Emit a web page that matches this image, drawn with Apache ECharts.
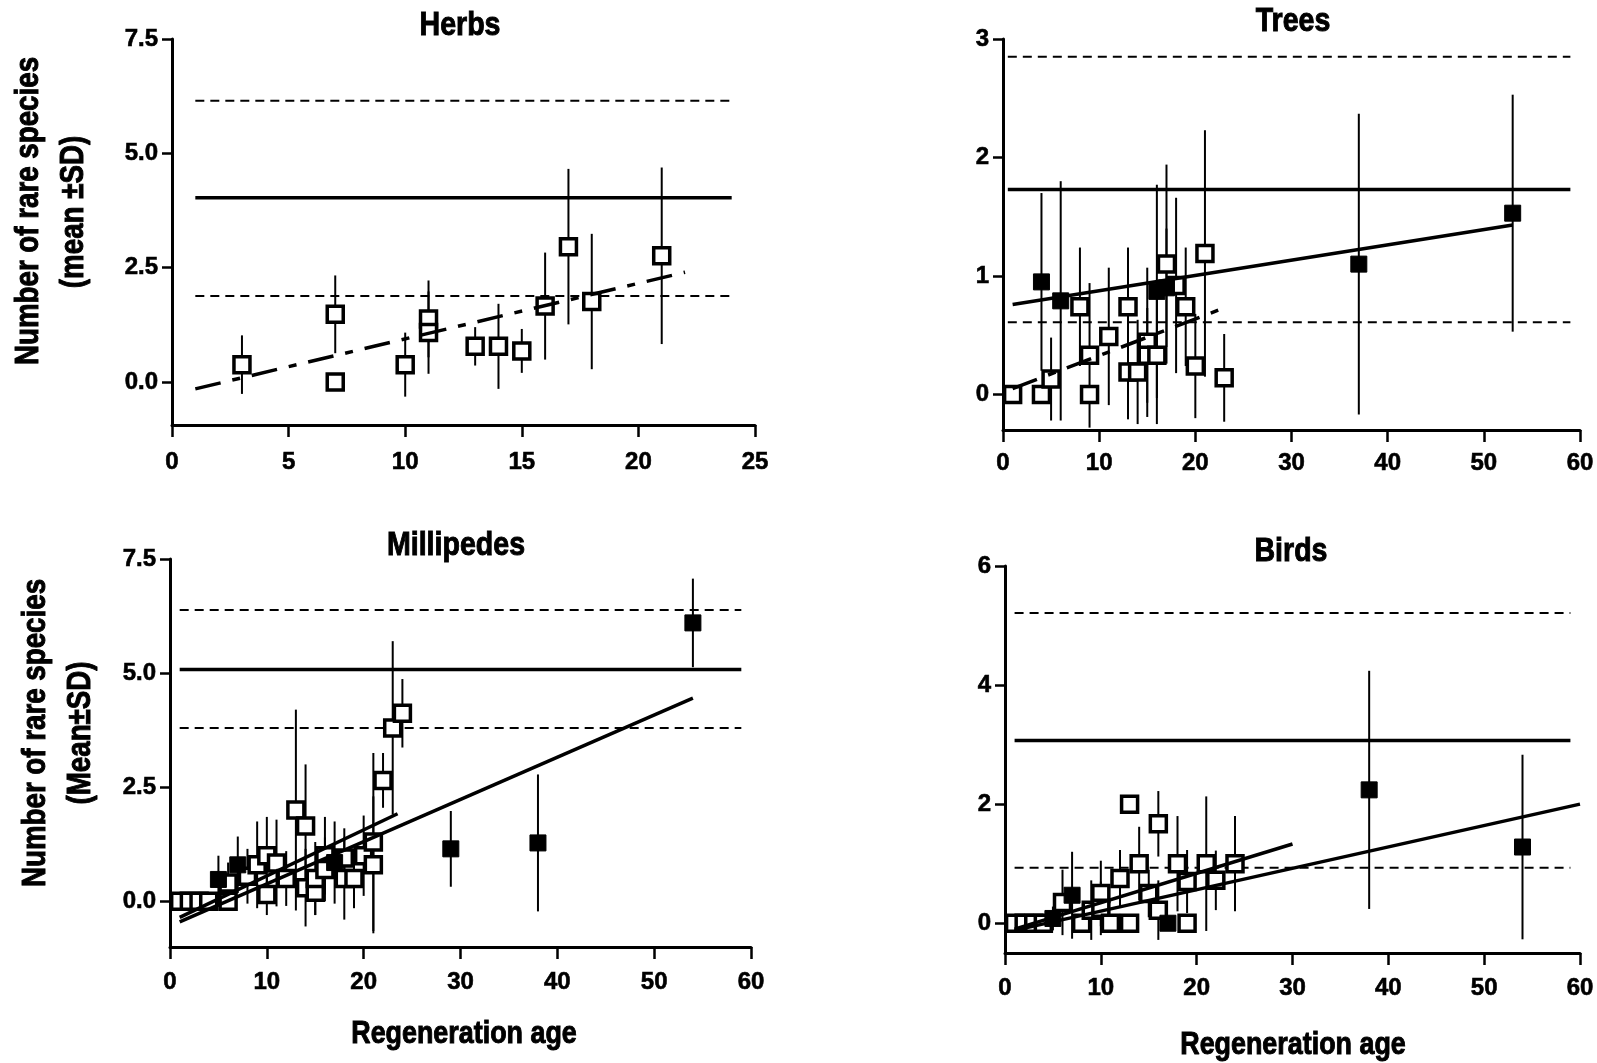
<!DOCTYPE html>
<html>
<head>
<meta charset="utf-8">
<script src="https://cdn.jsdelivr.net/npm/echarts@6/dist/echarts.min.js"></script>
<style>
  html, body { margin: 0; padding: 0; background: #fff; }
  #chart { width: 1597px; height: 1063px; }
</style>
</head>
<body>
<div id="chart"></div>
<script>
  // Herbs (only young regrowth sites, all open squares)
  const herbsAge  = [3, 7, 7, 10, 11, 11, 13, 14, 15, 16, 17, 18, 21];
  const herbsMean = [0.38, 1.48, 0, 0.38, 1.38, 1.08, 0.78, 0.78, 0.68, 1.66, 2.96, 1.76, 2.76];
  const herbsSD   = [0.64, 0.85, 0, 0.7, 0.84, 0.9, 0.42, 0.93, 0.48, 1.17, 1.7, 1.48, 1.93];
  const herbsRef  = [1.88, 4.03, 6.15];   // mean-SD, mean, mean+SD of old forest
  const herbsRefSpan = [1, 24];
  const herbsFit  = [[1, -0.15], [22, 2.4]];

  // Trees
  const treesOpenAge  = [1, 4, 5, 8, 9, 9, 11, 13, 13, 14, 15, 15, 16, 17, 18, 19, 20, 21, 23];
  const treesOpenMean = [0, 0, 0.13, 0.74, 0.33, 0, 0.49, 0.74, 0.19, 0.19, 0.44, 0.33, 0.33, 1.1, 0.92, 0.74, 0.24, 1.19, 0.14];
  const treesOpenSD   = [0, 0, 0.35, 0.5, 0.61, 0, 0.58, 0.5, 0.4, 0.44, 0.63, 0.4, 0.58, 0.84, 0.74, 0.5, 0.44, 1.04, 0.37];
  const treesFilledAge  = [4, 6, 16, 17, 37, 53];
  const treesFilledMean = [0.95, 0.79, 0.87, 0.9, 1.1, 1.53];
  const treesFilledSD   = [0.75, 1.01, 0.9, 0.5, 1.27, 1.0];
  const treesRef  = [0.61, 1.73, 2.85];
  const treesRefSpan = [0.5, 59];
  const treesFit  = [[1, 0.76], [53, 1.43]];
  const treesFitYoung = [[1, 0.05], [23, 0.73]];

  // Millipedes
  const milliOpenAge  = [1, 2, 3, 4, 6, 6, 8, 9, 10, 10, 11, 12, 13, 14, 14, 15, 15, 16, 16, 18, 18, 19, 20, 21, 21, 22, 23, 24];
  const milliOpenMean = [0, 0, 0, 0, 0, 0.4, 0.55, 0.8, 1.0, 0.15, 0.84, 0.5, 2.0, 1.65, 0.3, 0.2, 0.5, 1.0, 0.7, 0.95, 0.5, 0.5, 1.0, 1.3, 0.8, 2.65, 3.8, 4.12];
  const milliOpenSD   = [0, 0, 0, 0, 0, 0.45, 0.6, 0.95, 0.85, 0.45, 0.95, 0.6, 2.2, 1.35, 0.85, 0.5, 0.8, 0.85, 0.7, 0.65, 0.9, 0.65, 0.88, 1.95, 1.5, 0.6, 1.9, 0.75];
  const milliFilledAge  = [5, 7, 17, 29, 38, 54];
  const milliFilledMean = [0.48, 0.8, 0.85, 1.15, 1.28, 6.1];
  const milliFilledSD   = [0.52, 0.62, 0.9, 0.83, 1.5, 0.97];
  const milliRef  = [3.8, 5.08, 6.38];
  const milliRefSpan = [1, 59];
  const milliFit  = [[1, -0.45], [54, 4.45]];
  const milliFitYoung = [[1, -0.35], [23.5, 1.92]];

  // Birds
  const birdsOpenAge  = [1, 2, 3, 4, 6, 8, 9, 10, 10, 11, 12, 13, 13, 14, 15, 16, 16, 18, 19, 19, 21, 22, 24];
  const birdsOpenMean = [0, 0, 0, 0, 0.35, 0, 0.22, 0.5, 0.25, 0, 0.75, 2.0, 0, 1.0, 0.5, 1.67, 0.22, 1.0, 0, 0.7, 1.0, 0.72, 1.0];
  const birdsOpenSD   = [0, 0, 0, 0, 0.55, 0, 0.5, 0.55, 0.45, 0, 0.48, 0, 0, 0.62, 0.4, 0.55, 0.5, 0.8, 0, 0.53, 1.13, 0.5, 0.8];
  const birdsFilledAge  = [5, 7, 17, 38, 54];
  const birdsFilledMean = [0.08, 0.47, 0, 2.24, 1.28];
  const birdsFilledSD   = [0.2, 0.73, 0, 2.0, 1.55];
  const birdsRef  = [0.93, 3.07, 5.21];
  const birdsRefSpan = [1, 59];
  const birdsFit  = [[1, -0.12], [60, 2.0]];
  const birdsFitYoung = [[1, -0.1], [30, 1.33]];

  // axis tick labels
  const herbsTicks = [0, 2.5, 5, 7.5];
  const treesTicks = [0, 1, 2, 3];
  const milliTicks = [0, 2.5, 5, 7.5];
  const birdsTicks = [0, 2, 4, 6];

  const FONT = '"Liberation Sans", Arial, sans-serif';
  const grids = [
    { left: 172, top: 39, width: 583, height: 386 },
    { left: 1003, top: 39, width: 577, height: 391 },
    { left: 170, top: 559, width: 581, height: 388 },
    { left: 1005, top: 566, width: 575, height: 387 }
  ];

  function zip(a, b, c) {
    return a.map((v, i) => [v, b[i], c[i]]);
  }

  const tickFont = {
    color: '#000', fontFamily: FONT, fontWeight: 'bold', fontSize: 24,
    textBorderColor: '#000', textBorderWidth: 0.6
  };

  function xAxisOf(i, max, interval, margin) {
    return {
      gridIndex: i, type: 'value', min: 0, max: max, interval: interval,
      axisLine: { onZero: false, lineStyle: { color: '#000', width: 3 } },
      axisTick: { length: 12, lineStyle: { color: '#000', width: 2.5 } },
      axisLabel: Object.assign({ margin: margin }, tickFont),
      splitLine: { show: false }
    };
  }

  function yAxisOf(i, min, max, ticks, dec) {
    return {
      gridIndex: i, type: 'value', min: min, max: max,
      axisLine: { show: true, onZero: false, lineStyle: { color: '#000', width: 3 } },
      axisTick: { show: true, length: 10, customValues: ticks, lineStyle: { color: '#000', width: 2.5 } },
      axisLabel: Object.assign({
        customValues: ticks, margin: 14,
        formatter: function (v) { return v.toFixed(dec); }
      }, tickFont),
      splitLine: { show: false }
    };
  }

  // vertical SD bars
  function errorBars(i, data) {
    return {
      type: 'custom', xAxisIndex: i, yAxisIndex: i, z: 2,
      data: data, encode: { x: 0, y: 1 },
      renderItem: function (params, api) {
        const x = api.value(0), m = api.value(1), sd = api.value(2);
        if (!sd) return null;
        const p1 = api.coord([x, m + sd]);
        const p2 = api.coord([x, m - sd]);
        return {
          type: 'line',
          shape: { x1: p1[0], y1: p1[1], x2: p2[0], y2: p2[1] },
          style: { stroke: '#000', lineWidth: 2 }
        };
      }
    };
  }

  function squares(i, data, filled) {
    return {
      type: 'scatter', xAxisIndex: i, yAxisIndex: i, z: 4,
      symbol: 'rect', symbolSize: 16,
      data: data.map(d => [d[0], d[1]]),
      itemStyle: filled
        ? { color: '#000', borderColor: '#000', borderWidth: 1, opacity: 1 }
        : { color: '#fff', borderColor: '#000', borderWidth: 3.5, opacity: 1 },
      emphasis: { disabled: true }
    };
  }

  function refLines(i, ref, span) {
    return ref.map((v, k) => ({
      type: 'line', xAxisIndex: i, yAxisIndex: i, z: 3,
      symbol: 'none', silent: true,
      data: [[span[0], v], [span[1], v]],
      lineStyle: k === 1
        ? { color: '#000', width: 3.5, type: 'solid' }
        : { color: '#000', width: 2, type: [9, 6] }
    }));
  }

  function fitLine(i, pts, dashed) {
    return {
      type: 'line', xAxisIndex: i, yAxisIndex: i, z: 5,
      symbol: 'none', silent: true, data: pts,
      lineStyle: { color: '#000', width: 3.5, type: dashed ? [26, 12, 8, 12] : 'solid' }
    };
  }

  const herbsPts = zip(herbsAge, herbsMean, herbsSD);
  const treesOpen = zip(treesOpenAge, treesOpenMean, treesOpenSD);
  const treesFilled = zip(treesFilledAge, treesFilledMean, treesFilledSD);
  const milliOpen = zip(milliOpenAge, milliOpenMean, milliOpenSD);
  const milliFilled = zip(milliFilledAge, milliFilledMean, milliFilledSD);
  const birdsOpen = zip(birdsOpenAge, birdsOpenMean, birdsOpenSD);
  const birdsFilled = zip(birdsFilledAge, birdsFilledMean, birdsFilledSD);

  const series = [].concat(
    errorBars(0, herbsPts), squares(0, herbsPts, false),
    refLines(0, herbsRef, herbsRefSpan), fitLine(0, herbsFit, true),

    errorBars(1, treesOpen.concat(treesFilled)),
    squares(1, treesOpen, false), squares(1, treesFilled, true),
    refLines(1, treesRef, treesRefSpan),
    fitLine(1, treesFit, false), fitLine(1, treesFitYoung, true),

    errorBars(2, milliOpen.concat(milliFilled)),
    squares(2, milliOpen, false), squares(2, milliFilled, true),
    refLines(2, milliRef, milliRefSpan),
    fitLine(2, milliFit, false), fitLine(2, milliFitYoung, false),

    errorBars(3, birdsOpen.concat(birdsFilled)),
    squares(3, birdsOpen, false), squares(3, birdsFilled, true),
    refLines(3, birdsRef, birdsRefSpan),
    fitLine(3, birdsFit, false), fitLine(3, birdsFitYoung, false)
  );

  // narrow heavy text: Arial-like font squeezed along the text direction
  function label(text, x, y, size, rotate) {
    return {
      type: 'text', x: x, y: y, rotation: rotate ? Math.PI / 2 : 0,
      scaleX: 0.84, silent: true,
      style: {
        text: text, fill: '#000', stroke: '#000', lineWidth: 1,
        font: 'bold ' + size + 'px ' + FONT,
        textAlign: 'center', textVerticalAlign: 'middle'
      }
    };
  }

  const option = {
    animation: false,
    backgroundColor: '#fff',
    grid: grids,
    xAxis: [
      xAxisOf(0, 25, 5, 25),
      xAxisOf(1, 60, 10, 21),
      xAxisOf(2, 60, 10, 23),
      xAxisOf(3, 60, 10, 23)
    ],
    yAxis: [
      yAxisOf(0, -0.94, 7.5, herbsTicks, 1),
      yAxisOf(1, -0.3, 3, treesTicks, 0),
      yAxisOf(2, -1, 7.5, milliTicks, 1),
      yAxisOf(3, -0.5, 6, birdsTicks, 0)
    ],
    graphic: [
      label('Herbs', 460, 26, 34),
      label('Trees', 1293, 22, 34),
      label('Millipedes', 456, 546, 34),
      label('Birds', 1291, 552, 34),
      label('Number of rare species', 29, 211, 33, true),
      label('(mean ±SD)', 74, 212, 33, true),
      label('Number of rare species', 36, 733, 33, true),
      label('(Mean±SD)', 81, 733, 33, true),
      label('Regeneration age', 464, 1034, 32),
      label('Regeneration age', 1293, 1045, 32)
    ],
    series: series
  };

  const chartObj = echarts.init(document.getElementById('chart'));
  chartObj.setOption(option, true);
</script>
</body>
</html>
